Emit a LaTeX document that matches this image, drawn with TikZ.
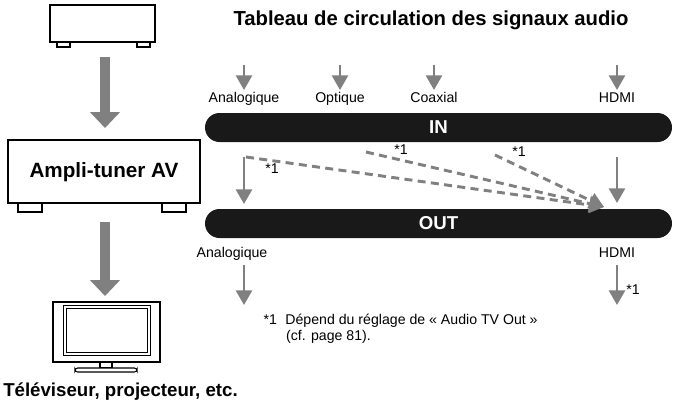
\documentclass[tikz,border=0pt]{standalone}
\usepackage{fontspec}
\setmainfont{Liberation Sans}
\usetikzlibrary{arrows.meta}
\definecolor{flowgray}{RGB}{128,128,128}
\begin{document}
\begin{tikzpicture}[x=0.75pt,y=-0.75pt]
      \tikzstyle{bar} = [fill=black!90, rounded corners=14.5*0.75pt, minimum height=29*0.75pt, inner sep=0pt]
      \tikzstyle{bigarrow} = [draw=flowgray, line width=7.5pt, -{Triangle[length=12pt,width=22pt]}]
      \tikzstyle{arrow} = [draw=flowgray, line width=2.2pt, -{Triangle[length=11pt,width=12pt]}]
      \tikzstyle{dasharrow} = [draw=flowgray, line width=2.2pt, dash pattern=on 6pt off 4pt, -{Triangle[length=11pt,width=12pt]}]
      \tikzstyle{lbl} = [font=\fontsize{10.6}{12.5}\selectfont, inner sep=1pt]
      \tikzstyle{box} = [draw, line width=0.8pt, fill=white]
      \useasboundingbox (0,0) rectangle (676,404);

      % devices
      \draw [box] (50,5) rectangle (155,42);
      \draw [box] (57,42) rectangle (70,47);
      \draw [box] (137,42) rectangle (150,47);
      \node (src) at (102,24) {};
      \draw [box] (8,140) rectangle (200,203);
      \draw [box] (18,203) rectangle (42,212);
      \draw [box] (162,203) rectangle (186,212);
      \node (amp) at (104,172) {\fontsize{15.5}{17}\selectfont\bfseries Ampli-tuner AV};
      \draw [box] (53,302) rectangle (160,362);
      \draw [line width=0.6pt] (63,305) rectangle (150,355);
      \draw [line width=0.6pt] (66,308) rectangle (147,352);
      \draw [box] (100,362) rectangle (112,368);
      \draw [box, rounded corners=2pt] (75,368) rectangle (137,372);
      \node (tv) [anchor=west, inner sep=0pt] at (3,392) {\fontsize{14}{16}\selectfont\bfseries Téléviseur, projecteur, etc.};
      \coordinate (a1) at (105,57);
      \coordinate (a2) at (105,128);
      \coordinate (a3) at (105,222);
      \coordinate (a4) at (105,296);
      \draw [bigarrow] (a1) -- (a2);
      \draw [bigarrow] (a3) -- (a4);

      % signal table
      \node (title) at (431,20) {\fontsize{15.2}{17}\selectfont\bfseries Tableau de circulation des signaux audio};
      \node (in) [bar, minimum width=467*0.75pt] at (438.5,127.5) {\color{white}\fontsize{14}{16}\selectfont\bfseries IN};
      \node (out) [bar, minimum width=467*0.75pt] at (438.5,223.5) {\color{white}\fontsize{14}{16}\selectfont\bfseries OUT};
      \foreach \x/\name in {244/Analogique, 340/Optique, 434/Coaxial, 617/HDMI}{
        \coordinate (t\x) at (\x,65);
        \node (l\x) [lbl, anchor=base] at (\x,102) {\name};
        \draw [arrow] (t\x) -- (\x,90);
      }
      \coordinate (ia) at (246,157);
      \coordinate (io) at (366,152);
      \coordinate (ic) at (495,155);
      \coordinate (ih) at (617,157);
      \coordinate (oh) at (604,207);
      \draw [arrow] (244,157) -- (244,204);
      \draw [arrow] (ih) -- (617,203);
      \draw [dasharrow] (ia) -- (oh);
      \draw [dasharrow] (io) -- (oh);
      \draw [dasharrow] (ic) -- (oh);
      \node [lbl] at (272,169) {*1};
      \node [lbl] at (401,150) {*1};
      \node [lbl] at (519,152) {*1};
      \node (oa) [lbl, anchor=base] at (232,257) {Analogique};
      \node (ohd) [lbl, anchor=base] at (617,257) {HDMI};
      \draw [arrow] (244,265) -- (244,305);
      \draw [arrow] (617,265) -- (617,305);
      \node [lbl] at (633,290) {*1};
      \node (note) [lbl, anchor=north west, align=left] at (262,312) {*1\hspace{0.6em}Dépend du réglage de « Audio TV Out »\\\hspace{1.6em}(cf. page 81).};
\end{tikzpicture}
\end{document}
